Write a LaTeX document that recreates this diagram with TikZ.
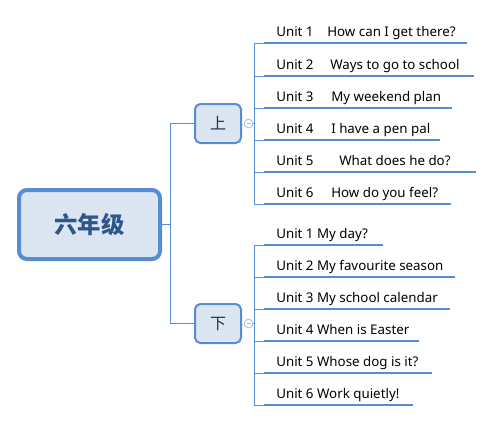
\documentclass[tikz,border=0pt]{standalone}
\usepackage{fontspec}
\setmainfont{Noto Sans}
\newfontfamily\cjk{Noto Sans CJK SC}
\definecolor{lineblue}{RGB}{86,140,210}
\definecolor{boxfill}{RGB}{220,230,242}
\definecolor{roottext}{RGB}{47,85,140}
\definecolor{circblue}{RGB}{160,190,232}
\begin{document}
\begin{tikzpicture}[x=0.75pt,y=-0.75pt,
  conn/.style={draw=lineblue, line width=0.75pt},
  uline/.style={draw=lineblue, line width=2.2pt},
  item/.style={anchor=base west, inner sep=0pt, font=\fontsize{10}{12}\selectfont, text=black},
  rootbox/.style={draw=lineblue, line width=3pt, fill=boxfill, rounded corners=6pt,
    minimum width=105.75pt, minimum height=51.75pt, inner sep=0pt,
    font=\cjk\bfseries\fontsize{17.5}{19}\selectfont, text=roottext},
  subbox/.style={draw=lineblue, line width=1.5pt, fill=boxfill, rounded corners=4pt,
    minimum width=34.5pt, minimum height=29.25pt, inner sep=0pt,
    font=\cjk\fontsize{12}{14}\selectfont, text=roottext!60!black},
  collapse/.style={circle, draw=circblue, fill=white, line width=0.6pt, minimum size=6.5pt, inner sep=0pt}
  ]
\useasboundingbox (0,0) rectangle (493,422);
\node[rootbox] (root) at (89.5,224.5) {六年级};
\node[subbox] (up) at (218,123.5) {上};
\node[subbox] (down) at (218,323.5) {下};
\coordinate (rj) at (170,224.5);
\draw[conn] (root.east) -- (rj) |- (up.west);
\draw[conn] (rj) |- (down.west);
\node[collapse] (upc) at (248.5,123.5) {};
\node[collapse] (downc) at (248.5,323.5) {};
\draw[circblue, line width=0.6pt] ([xshift=-1.5pt]upc.center) -- ([xshift=1.5pt]upc.center);
\draw[circblue, line width=0.6pt] ([xshift=-1.5pt]downc.center) -- ([xshift=1.5pt]downc.center);
\coordinate (us) at (254,123.5);
\coordinate (ds) at (254,323.5);
\draw[conn] (upc.east) -- (us);
\draw[conn] (downc.east) -- (ds);
\foreach \i/\y/\e/\w/\t in {1/43/467/38.25pt/How can I get there?,
  2/76/474/40.5pt/Ways to go to school,
  3/108/452/41.25pt/My weekend plan,
  4/140/440/41.25pt/I have a pen pal,
  5/172/476/47.25pt/What does he do?,
  6/204/451/41.25pt/How do you feel?}{
  \coordinate (ul\i) at (264,\y);
  \coordinate (ur\i) at (\e,\y);
  \draw[conn] (us) |- (ul\i);
  \draw[uline] (ul\i) -- (ur\i);
  \node[item] (ut\i) at (276,\y-6.5) {\makebox[\w][l]{Unit \i}\t};
}
\foreach \i/\y/\e/\t in {1/245/383/My day?,
  2/277/455/My favourite season,
  3/309/450/My school calendar,
  4/341/419/When is Easter,
  5/373/432/Whose dog is it?,
  6/405/413/Work quietly!}{
  \coordinate (dl\i) at (264,\y);
  \coordinate (dr\i) at (\e,\y);
  \draw[conn] (ds) |- (dl\i);
  \draw[uline] (dl\i) -- (dr\i);
  \node[item] (dt\i) at (276,\y-6.5) {Unit \i{} \t};
}
\end{tikzpicture}
\end{document}
